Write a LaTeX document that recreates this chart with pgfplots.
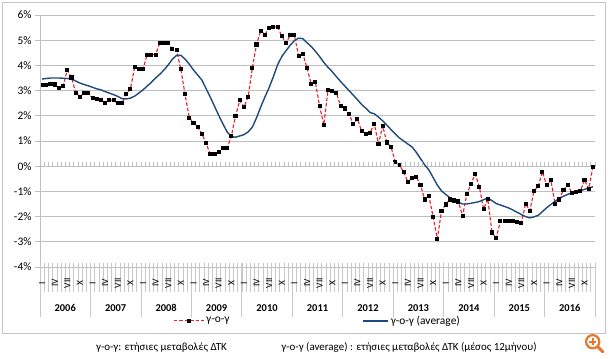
\documentclass[border=0pt]{standalone}
\usepackage{fontspec}
\setmainfont{Carlito}
\usepackage{pgfplots}
\pgfplotsset{compat=1.18}
\usepackage{pgfplotstable}
\definecolor{redline}{HTML}{EE1C25}
\definecolor{avgblue}{HTML}{1F497D}
\definecolor{gridgray}{HTML}{BFBFBF}
\definecolor{lightgray}{HTML}{C8C8C8}
\definecolor{framegray}{HTML}{C4C4C4}
\definecolor{iconorange}{HTML}{E8762D}
\pgfplotsset{
  redleg/.style={legend image code/.code={\draw[##1, mark repeat=2, mark phase=2] plot coordinates {(0bp,0bp) (15bp,0bp) (30bp,0bp)};}},
  blueleg/.style={legend image code/.code={\draw[##1] (0bp,0bp) -- (25bp,0bp);}},
}

\pgfplotstableread{
yoy avg
3.21 3.46
3.21 3.48
3.27 3.50
3.24 3.50
3.10 3.50
3.20 3.49
3.81 3.48
3.52 3.46
2.91 3.38
2.76 3.30
2.90 3.24
2.90 3.19
2.69 3.13
2.65 3.07
2.63 3.03
2.49 2.96
2.63 2.90
2.61 2.84
2.49 2.77
2.50 2.68
2.87 2.67
3.06 2.70
3.92 2.78
3.86 2.90
3.86 3.03
4.43 3.18
4.43 3.33
4.43 3.50
4.89 3.65
4.90 3.82
4.88 4.02
4.65 4.25
4.60 4.40
3.84 4.40
2.85 4.25
1.93 4.05
1.71 3.82
1.55 3.62
1.28 3.42
0.91 3.08
0.47 2.74
0.49 2.38
0.55 2.02
0.74 1.68
0.71 1.36
1.19 1.18
1.98 1.15
2.61 1.20
2.34 1.25
2.74 1.36
3.90 1.55
4.83 1.92
5.38 2.35
5.22 2.75
5.49 3.12
5.52 3.55
5.54 4.02
5.16 4.35
4.89 4.58
5.19 4.80
5.19 4.98
4.39 5.08
4.47 5.06
3.90 4.90
3.27 4.75
3.33 4.56
2.38 4.35
1.64 4.12
3.02 3.92
3.00 3.75
2.91 3.55
2.38 3.36
2.29 3.18
2.08 3.00
1.66 2.82
1.88 2.64
1.39 2.45
1.29 2.30
1.33 2.13
1.68 2.08
0.89 1.95
1.60 1.80
0.94 1.63
0.76 1.45
0.17 1.28
0.05 1.12
-0.24 1.00
-0.62 0.88
-0.46 0.76
-0.42 0.55
-0.75 0.30
-1.32 0.05
-1.18 -0.15
-2.01 -0.45
-2.88 -0.75
-1.76 -0.98
-1.52 -1.12
-1.32 -1.25
-1.36 -1.35
-1.40 -1.43
-1.98 -1.50
-1.12 -1.50
-0.70 -1.47
-0.32 -1.44
-0.82 -1.40
-1.70 -1.33
-1.30 -1.26
-2.63 -1.37
-2.86 -1.48
-2.18 -1.54
-2.17 -1.60
-2.17 -1.66
-2.18 -1.74
-2.20 -1.83
-2.25 -1.92
-1.49 -2.00
-1.76 -2.05
-0.98 -2.01
-0.79 -1.95
-0.22 -1.80
-0.76 -1.65
-0.55 -1.52
-1.50 -1.39
-1.32 -1.28
-0.93 -1.19
-0.74 -1.12
-1.07 -1.06
-1.02 -1.01
-1.00 -0.97
-0.54 -0.92
-0.90 -0.86
-0.04 -0.82
}\cpidata

\begin{document}
\begin{tikzpicture}
\path[use as bounding box] (0,0) rectangle (610bp,359bp);
\draw[framegray, line width=0.8bp] (2bp,26bp) rectangle (605bp,357bp);
\begin{axis}[
  scale only axis,
  width=555bp, height=252bp,
  at={(40bp,92bp)}, anchor=south west,
  xmin=0, xmax=132, ymin=-4, ymax=6,
  xtick=\empty,
  ytick={-4,-3,-2,-1,0,1,2,3,4,5,6},
  yticklabels={-4\%,-3\%,-2\%,-1\%,0\%,1\%,2\%,3\%,4\%,5\%,6\%},
  ytick pos=left,
  major tick length=0pt,
  yticklabel style={font=\fontsize{11.5}{13}\selectfont, anchor=east, inner sep=0pt, xshift=-8.3bp},
  ymajorgrids,
  grid style={gridgray, line width=0.9bp},
  axis line style={draw=none},
  clip=false,
  legend columns=2,
  legend cell align=left,
  legend style={at={(0.234,-0.214)}, anchor=west, draw=none, fill=none,
    font=\fontsize{11.5}{13}\selectfont,
    /tikz/every even column/.append style={column sep=131bp}},
]
\addplot[redline, line width=1.1bp, dash pattern=on 3.5bp off 2bp,
  mark=square*, mark size=1.5bp, mark options={solid, fill=black, draw=black}, redleg]
  table[x expr=\coordindex+0.5, y=yoy] {\cpidata};
\addlegendentry{γ-ο-γ}
\addplot[avgblue, line width=1.4bp, no markers, blueleg]
  table[x expr=\coordindex+0.5, y=avg] {\cpidata};
\addlegendentry{γ-ο-γ (average)}
\end{axis}
\begin{scope}[x=1bp,y=1bp]
  \draw[gridgray, line width=0.9bp] (40,344) -- (40,92);
  \foreach \v in {0,...,10} \draw[gridgray, line width=0.9bp] (35,{92+25.2*\v}) -- (40,{92+25.2*\v});
  \foreach \k in {0,...,132} \draw[gridgray, line width=0.6bp] ({40+\k*4.204545},191.5) -- ({40+\k*4.204545},196.5);
  \foreach \k in {0,...,132} \draw[lightgray, line width=0.6bp] ({40+\k*4.204545},96) -- ({40+\k*4.204545},67);
  \foreach \k in {0,...,11} \draw[lightgray, line width=0.8bp] ({40+\k*50.454545},96) -- ({40+\k*50.454545},42);
  \foreach \k in {0,...,10} {
    \foreach \m/\r in {0/I,3/IV,6/VII,9/X} {
      \node[rotate=90, font=\fontsize{9.5}{10}\selectfont, inner sep=0pt] at ({40+(12*\k+\m+0.5)*4.204545},76) {\r};
    }
  }
  \foreach \k in {0,...,10} {
    \pgfmathtruncatemacro\yr{2006+\k}
    \node[font=\fontsize{10.5}{12}\selectfont\bfseries, inner sep=0pt] at ({40+(12*\k+6)*4.204545},51) {\yr};
  }
  \node[font=\fontsize{11}{13}\selectfont, inner sep=0pt] at (161.5,11.5) {γ-ο-γ: ετήσιες μεταβολές ΔΤΚ};
  \node[font=\fontsize{11}{13}\selectfont, inner sep=0pt] at (409,11.5) {γ-ο-γ (average) : ετήσιες μεταβολές ΔΤΚ (μέσος 12μήνου)};
  \draw[iconorange, line width=2.2bp] (592.7,17.3) circle (6.6);
  \draw[iconorange, line width=3bp, line cap=round] (597.8,12.2) -- (602.8,7.2);
  \draw[iconorange, line width=2bp] (589,17.3) -- (596.4,17.3) (592.7,13.6) -- (592.7,21);
\end{scope}
\end{tikzpicture}
\end{document}
